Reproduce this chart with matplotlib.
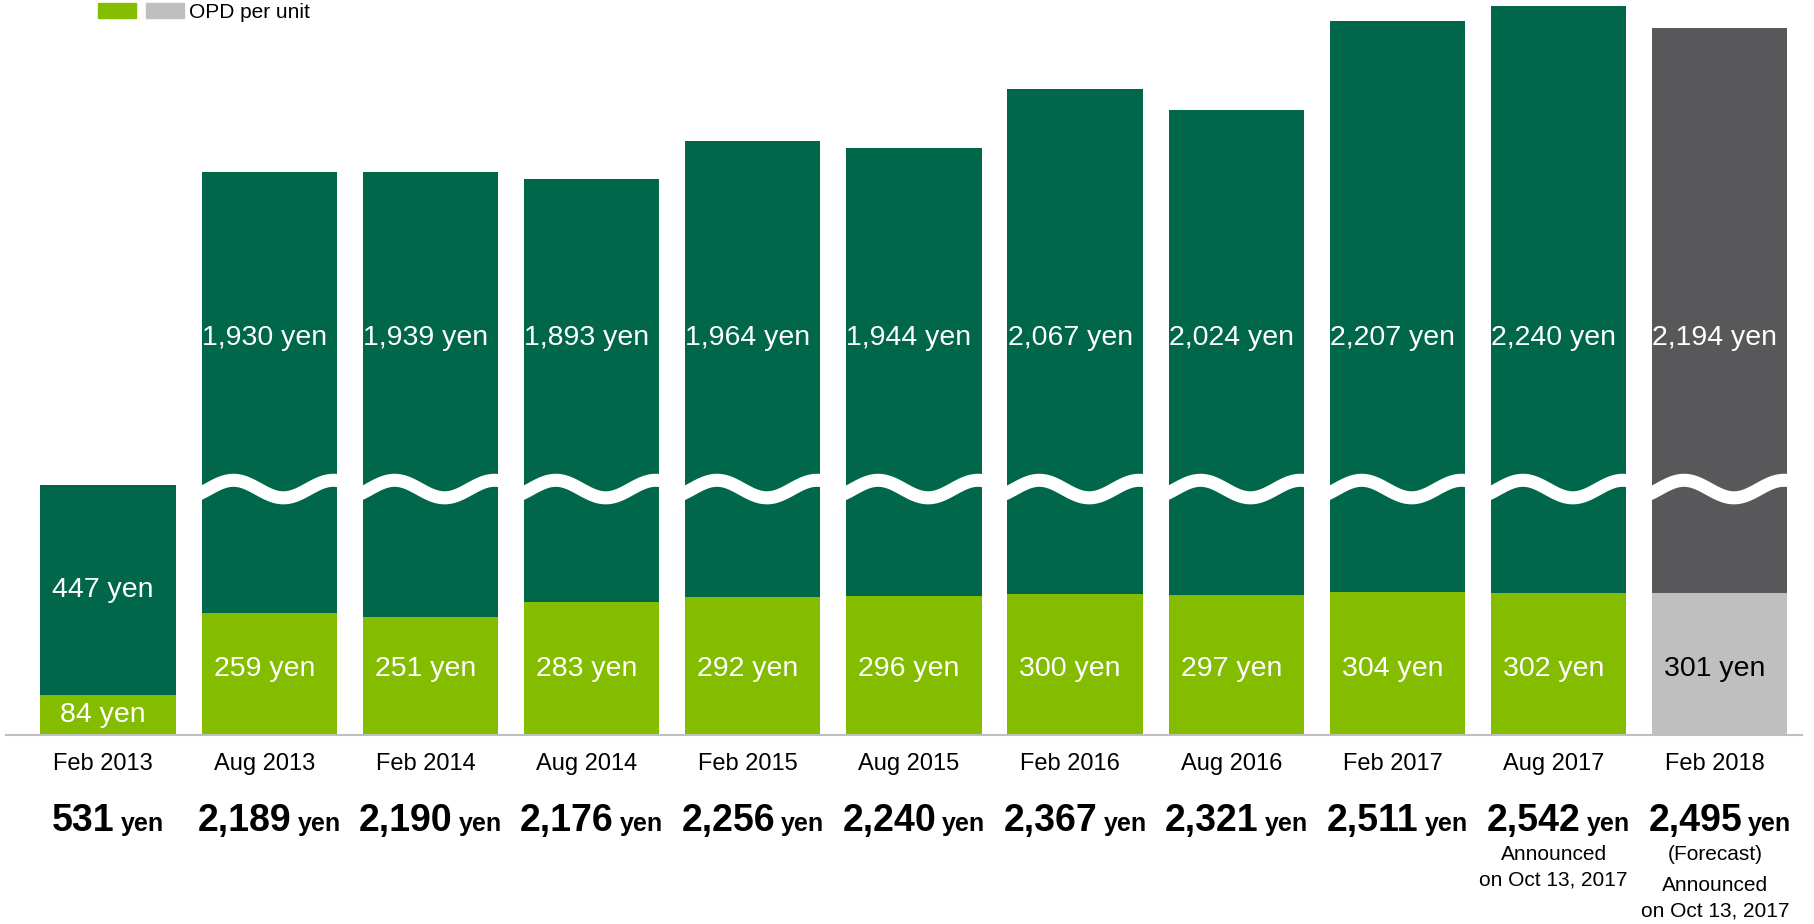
import matplotlib
matplotlib.use('Agg')
import matplotlib.pyplot as plt
import numpy as np
from matplotlib.patches import Patch
from matplotlib.legend_handler import HandlerTuple
from matplotlib.transforms import blended_transform_factory, offset_copy

plt.rcParams['font.family'] = ['Liberation Sans', 'DejaVu Sans']

periods = ['Feb 2013', 'Aug 2013', 'Feb 2014', 'Aug 2014', 'Feb 2015', 'Aug 2015',
           'Feb 2016', 'Aug 2016', 'Feb 2017', 'Aug 2017', 'Feb 2018']
opd_per_unit = [84, 259, 251, 283, 292, 296, 300, 297, 304, 302, 301]
dpu_total = [531, 2189, 2190, 2176, 2256, 2240, 2367, 2321, 2511, 2542, 2495]
notes = {'Aug 2017': ['Announced', 'on Oct 13, 2017'],
         'Feb 2018': ['(Forecast)', 'Announced', 'on Oct 13, 2017']}
forecast = 'Feb 2018'

DARK_GREEN = '#00674A'
LIGHT_GREEN = '#84BD00'
DARK_GREY = '#58585A'
LIGHT_GREY = '#BFBFBF'

CUT = 995          # yen hidden by the axis break
BREAK_Y = 522      # where the wavy break is drawn (display units)
UPPER_LABEL_Y = 843
LOWER_LABEL_Y = 140

fig = plt.figure(figsize=(18.15, 9.24), dpi=100)
ax = fig.add_axes([6 / 1815, 189 / 924, 1796 / 1815, 735 / 924])

x = np.arange(len(periods))
width = 0.84
broken = [t > 1000 for t in dpu_total]
shown = [t - CUT if b else t for t, b in zip(dpu_total, broken)]
upper = [s - o for s, o in zip(shown, opd_per_unit)]
low_col = [LIGHT_GREY if p == forecast else LIGHT_GREEN for p in periods]
up_col = [DARK_GREY if p == forecast else DARK_GREEN for p in periods]

ax.bar(x, opd_per_unit, width, color=low_col, zorder=2)
ax.bar(x, upper, width, bottom=opd_per_unit, color=up_col, zorder=2)

# wavy white break across the tall bars
t = np.linspace(-0.02, 1.02, 120)
for i, b in enumerate(broken):
    if not b:
        continue
    wx = i - width / 2 + t * width
    wy = BREAK_Y + 18.6 * np.sin(2 * np.pi * (t - 0.236) / 0.738 + np.pi / 2)
    ax.plot(wx, wy, color='white', lw=9.4, solid_capstyle='butt', zorder=3)

# labels sit a touch left of the bar centre
nudge = offset_copy(ax.transData, fig, x=-5, y=0, units='dots')
for i, p in enumerate(periods):
    fc = 'black' if p == forecast else 'white'
    upper_val = dpu_total[i] - opd_per_unit[i]
    uy = UPPER_LABEL_Y if broken[i] else opd_per_unit[i] + upper[i] / 2
    ly = LOWER_LABEL_Y if broken[i] else opd_per_unit[i] / 2
    ax.text(i, uy, f'{upper_val:,} yen', ha='center', va='center',
            color='white', fontsize=20.5, zorder=4, transform=nudge)
    ax.text(i, ly, f'{opd_per_unit[i]} yen', ha='center', va='center',
            color=fc, fontsize=20.5, zorder=4, transform=nudge)

ax.set_xlim(-0.633, 10.51)
ax.set_ylim(0, 1560)
for s in ['top', 'left', 'right']:
    ax.spines[s].set_visible(False)
ax.spines['bottom'].set_color(LIGHT_GREY)
ax.spines['bottom'].set_linewidth(1.5)
ax.set_xticks([])
ax.set_yticks([])

# labels under the axis
trans = blended_transform_factory(ax.transData, fig.transFigure)
cat_trans = offset_copy(trans, fig, x=-5, y=0, units='dots')
fig.canvas.draw()
r = fig.canvas.get_renderer()
for i, p in enumerate(periods):
    ax.text(i, 1 - 764 / 924, p, ha='center', va='center', fontsize=17,
            transform=cat_trans, clip_on=False)
    t1 = ax.text(i, 1 - 831 / 924, f'{dpu_total[i]:,}', ha='left', va='baseline',
                 fontsize=27, fontweight='bold', transform=trans)
    t2 = ax.text(i, 1 - 831 / 924, 'yen', ha='left', va='baseline',
                 fontsize=18, fontweight='bold', transform=trans)
    w1 = t1.get_window_extent(r).width
    w2 = t2.get_window_extent(r).width
    gap = 6
    half = (w1 + gap + w2) / 2
    t1.set_transform(offset_copy(trans, fig, x=-half, y=0, units='dots'))
    t2.set_transform(offset_copy(trans, fig, x=-half + w1 + gap, y=0, units='dots'))
    if p in notes:
        ys = [854, 880] if len(notes[p]) == 2 else [854, 885.5, 911]
        for line, yy in zip(notes[p], ys):
            ax.text(i, 1 - yy / 924, line, ha='center', va='center', fontsize=15,
                    transform=cat_trans)

handles = [(Patch(color=LIGHT_GREEN), Patch(color=LIGHT_GREY))]
fig.legend(handles, ['OPD per unit'], loc='center left',
           bbox_to_anchor=(98 / 1815, 1 - 12 / 924), frameon=False, fontsize=15,
           borderpad=0, borderaxespad=0, handlelength=4.13, handleheight=0.72,
           handletextpad=0.24, handler_map={tuple: HandlerTuple(ndivide=None, pad=0.48)})

fig.savefig('out.png', dpi=100)
